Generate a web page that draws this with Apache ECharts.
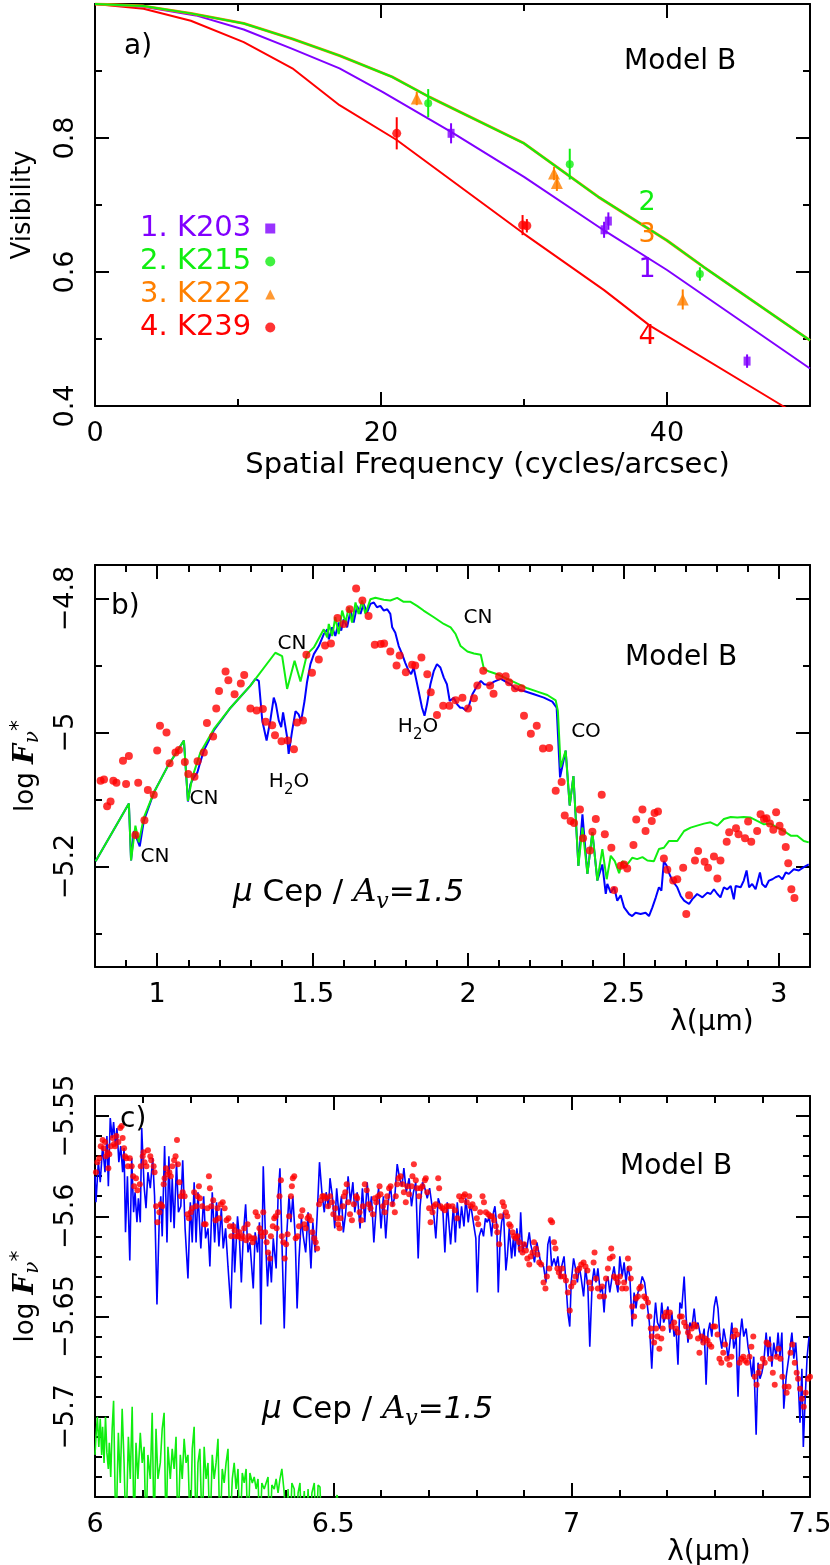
<!DOCTYPE html>
<html>
<head>
<meta charset="utf-8">
<script src="https://cdn.jsdelivr.net/npm/echarts@6/dist/echarts.min.js"></script>
<style>html,body{margin:0;padding:0;background:#fff}#chart{width:830px;height:1565px}</style>
</head>
<body>
<div id="chart"></div>
<script>
// ---------- a) visibility vs spatial frequency ----------
const modelK203 = [[0,1],[3.4,0.996],[7.05,0.983],[10.4,0.962],[13.8,0.933],[17.1,0.904],[20.1,0.869],[24.9,0.809],[30,0.742],[35.6,0.662],[40,0.603],[50,0.456]];
const modelK215 = [[0,1],[3.4,0.997],[6.7,0.986],[10.4,0.971],[13.8,0.948],[17.1,0.923],[20.8,0.891],[23.4,0.861],[30,0.792],[35.2,0.712],[40,0.647],[42.6,0.607],[50,0.498]];
const modelK222 = [[0,1],[3.4,0.997],[6.7,0.986],[10.4,0.971],[13.8,0.948],[17.1,0.923],[20.8,0.891],[23.4,0.861],[30,0.792],[35.2,0.712],[40,0.647],[42.6,0.607],[50,0.498]];
const modelK239 = [[0,1],[3.4,0.993],[6.7,0.975],[10.4,0.943],[13.8,0.904],[17.1,0.849],[21.1,0.797],[30,0.657],[35.6,0.573],[38.8,0.520],[48.1,0.400],[50,0.376]];
// [freq, visibility, error]
const obsK203 = [[24.9,0.807,0.015],[35.6,0.663,0.012],[35.9,0.676,0.013],[45.6,0.467,0.010]];
const obsK215 = [[23.3,0.852,0.021],[33.2,0.761,0.023],[42.3,0.597,0.010]];
const obsK222 = [[22.5,0.859,0.010],[32.1,0.747,0.010],[32.3,0.733,0.012],[41.1,0.559,0.015]];
const obsK239 = [[21.1,0.807,0.024],[29.9,0.670,0.015],[30.2,0.669,0.010]];
const legendNames = ['1. K203', '2. K215', '3. K222', '4. K239'];

// ---------- b) 0.8-3.1 micron spectrum ----------
const greenB = [[0.802,-5.192],[0.909,-5.106],[0.916,-5.191],[0.930,-5.139],[0.941,-5.164],[0.957,-5.127],[0.989,-5.090],[1.032,-5.052],[1.086,-5.012],[1.099,-5.102],[1.113,-5.067],[1.139,-5.030],[1.182,-4.995],[1.236,-4.963],[1.300,-4.930],[1.380,-4.881],[1.402,-4.886],[1.418,-4.935],[1.442,-4.893],[1.461,-4.924],[1.482,-4.883],[1.504,-4.873],[1.536,-4.846],[1.547,-4.858],[1.552,-4.838],[1.563,-4.856],[1.573,-4.828],[1.584,-4.853],[1.595,-4.818],[1.606,-4.836],[1.616,-4.813],[1.627,-4.836],[1.638,-4.806],[1.648,-4.823],[1.659,-4.803],[1.670,-4.823],[1.686,-4.801],[1.702,-4.799],[1.729,-4.802],[1.750,-4.803],[1.772,-4.799],[1.793,-4.805],[1.815,-4.805],[1.836,-4.811],[1.857,-4.818],[1.890,-4.828],[1.922,-4.838],[1.944,-4.843],[1.960,-4.853],[1.976,-4.871],[1.998,-4.879],[2.019,-4.882],[2.041,-4.884],[2.051,-4.905],[2.068,-4.909],[2.094,-4.913],[2.126,-4.920],[2.159,-4.927],[2.191,-4.934],[2.223,-4.939],[2.255,-4.944],[2.282,-4.952],[2.289,-4.968],[2.298,-5.052],[2.314,-5.027],[2.327,-5.109],[2.339,-5.065],[2.355,-5.199],[2.368,-5.142],[2.384,-5.211],[2.400,-5.149],[2.416,-5.221],[2.432,-5.174],[2.446,-5.219],[2.459,-5.184],[2.472,-5.192],[2.486,-5.210],[2.496,-5.192],[2.512,-5.197],[2.528,-5.187],[2.544,-5.189],[2.561,-5.186],[2.577,-5.191],[2.598,-5.192],[2.614,-5.174],[2.630,-5.172],[2.646,-5.162],[2.673,-5.162],[2.695,-5.147],[2.716,-5.142],[2.737,-5.139],[2.759,-5.136],[2.780,-5.134],[2.802,-5.139],[2.823,-5.129],[2.845,-5.126],[2.866,-5.127],[2.887,-5.126],[2.909,-5.127],[2.930,-5.132],[2.952,-5.137],[2.973,-5.136],[2.995,-5.142],[3.016,-5.147],[3.038,-5.154],[3.059,-5.154],[3.080,-5.162],[3.096,-5.164]];
const blueB = [[0.802,-5.192],[0.909,-5.106],[0.916,-5.191],[0.925,-5.147],[0.944,-5.170],[0.957,-5.132],[0.989,-5.090],[1.032,-5.052],[1.086,-5.012],[1.099,-5.103],[1.107,-5.077],[1.118,-5.067],[1.129,-5.060],[1.137,-5.047],[1.150,-5.027],[1.182,-4.997],[1.236,-4.963],[1.300,-4.930],[1.316,-4.920],[1.327,-4.923],[1.338,-4.982],[1.352,-5.012],[1.364,-4.982],[1.375,-4.948],[1.382,-4.958],[1.391,-4.982],[1.399,-4.992],[1.405,-4.970],[1.418,-5.007],[1.423,-5.032],[1.434,-4.998],[1.445,-4.968],[1.455,-4.973],[1.463,-4.983],[1.474,-4.953],[1.482,-4.925],[1.493,-4.898],[1.504,-4.883],[1.520,-4.871],[1.536,-4.853],[1.547,-4.846],[1.552,-4.861],[1.563,-4.843],[1.573,-4.856],[1.584,-4.836],[1.592,-4.848],[1.600,-4.831],[1.611,-4.843],[1.622,-4.818],[1.632,-4.836],[1.643,-4.811],[1.654,-4.823],[1.664,-4.808],[1.675,-4.821],[1.686,-4.808],[1.697,-4.806],[1.707,-4.813],[1.718,-4.811],[1.729,-4.818],[1.740,-4.816],[1.750,-4.823],[1.756,-4.843],[1.766,-4.851],[1.777,-4.871],[1.788,-4.883],[1.798,-4.896],[1.809,-4.908],[1.817,-4.913],[1.825,-4.903],[1.841,-4.938],[1.852,-4.963],[1.860,-4.975],[1.868,-4.958],[1.879,-4.928],[1.890,-4.908],[1.900,-4.898],[1.911,-4.903],[1.922,-4.918],[1.932,-4.928],[1.941,-4.953],[1.954,-4.948],[1.965,-4.958],[1.975,-4.963],[1.982,-4.963],[1.993,-4.967],[2.003,-4.960],[2.014,-4.943],[2.030,-4.930],[2.041,-4.923],[2.052,-4.928],[2.068,-4.929],[2.084,-4.924],[2.105,-4.920],[2.121,-4.924],[2.137,-4.928],[2.153,-4.935],[2.180,-4.938],[2.212,-4.943],[2.244,-4.948],[2.271,-4.954],[2.285,-4.963],[2.296,-5.067],[2.314,-5.027],[2.327,-5.109],[2.339,-5.065],[2.355,-5.199],[2.368,-5.122],[2.384,-5.211],[2.400,-5.149],[2.416,-5.221],[2.432,-5.197],[2.443,-5.241],[2.448,-5.226],[2.459,-5.239],[2.470,-5.231],[2.480,-5.251],[2.491,-5.243],[2.502,-5.261],[2.518,-5.271],[2.528,-5.274],[2.539,-5.269],[2.555,-5.271],[2.571,-5.269],[2.582,-5.274],[2.593,-5.261],[2.604,-5.246],[2.614,-5.231],[2.622,-5.236],[2.630,-5.192],[2.639,-5.199],[2.646,-5.209],[2.657,-5.221],[2.673,-5.231],[2.684,-5.244],[2.695,-5.251],[2.711,-5.256],[2.721,-5.249],[2.737,-5.241],[2.754,-5.246],[2.770,-5.239],[2.780,-5.241],[2.791,-5.234],[2.802,-5.241],[2.812,-5.246],[2.823,-5.231],[2.834,-5.234],[2.845,-5.229],[2.855,-5.249],[2.861,-5.229],[2.877,-5.231],[2.887,-5.221],[2.896,-5.206],[2.904,-5.231],[2.914,-5.226],[2.925,-5.234],[2.939,-5.209],[2.946,-5.226],[2.957,-5.231],[2.968,-5.221],[2.979,-5.219],[2.989,-5.216],[3.000,-5.214],[3.011,-5.219],[3.022,-5.209],[3.032,-5.211],[3.048,-5.204],[3.064,-5.206],[3.080,-5.201],[3.096,-5.197]];
const redB = [[0.818,-5.072],[0.829,-5.070],[0.839,-5.110],[0.850,-5.103],[0.859,-5.072],[0.869,-5.075],[0.890,-5.042],[0.900,-5.077],[0.909,-5.035],[0.930,-5.153],[0.939,-5.075],[0.959,-5.131],[0.970,-5.086],[0.989,-5.093],[1.000,-5.027],[1.009,-4.990],[1.030,-5.000],[1.040,-5.046],[1.059,-5.030],[1.070,-5.026],[1.089,-5.044],[1.100,-5.062],[1.120,-5.066],[1.130,-5.043],[1.150,-5.030],[1.160,-4.986],[1.180,-5.006],[1.190,-4.964],[1.199,-4.938],[1.220,-4.909],[1.229,-4.922],[1.249,-4.943],[1.269,-4.927],[1.280,-4.914],[1.300,-4.964],[1.320,-4.967],[1.340,-4.965],[1.349,-4.984],[1.370,-4.989],[1.379,-5.004],[1.400,-5.013],[1.420,-5.012],[1.440,-5.025],[1.450,-4.985],[1.469,-4.982],[1.480,-4.884],[1.498,-4.911],[1.520,-4.891],[1.540,-4.870],[1.559,-4.867],[1.580,-4.829],[1.600,-4.838],[1.619,-4.816],[1.640,-4.785],[1.660,-4.803],[1.680,-4.826],[1.700,-4.869],[1.719,-4.868],[1.730,-4.867],[1.750,-4.879],[1.770,-4.900],[1.780,-4.885],[1.800,-4.910],[1.820,-4.899],[1.830,-4.900],[1.850,-4.888],[1.869,-4.913],[1.880,-4.940],[1.900,-4.974],[1.920,-4.960],[1.940,-4.960],[1.960,-4.952],[1.982,-4.948],[2.000,-4.964],[2.019,-4.949],[2.030,-4.930],[2.049,-4.908],[2.071,-4.930],[2.082,-4.942],[2.100,-4.916],[2.121,-4.916],[2.132,-4.925],[2.151,-4.934],[2.172,-4.934],[2.180,-4.975],[2.202,-5.002],[2.221,-4.990],[2.241,-5.024],[2.261,-5.023],[2.282,-5.087],[2.301,-5.074],[2.311,-5.124],[2.330,-5.132],[2.341,-5.135],[2.360,-5.115],[2.370,-5.158],[2.392,-5.176],[2.400,-5.148],[2.411,-5.129],[2.430,-5.093],[2.440,-5.152],[2.461,-5.172],[2.470,-5.235],[2.491,-5.199],[2.502,-5.197],[2.512,-5.203],[2.532,-5.168],[2.541,-5.130],[2.561,-5.115],[2.571,-5.147],[2.591,-5.132],[2.600,-5.120],[2.611,-5.118],[2.630,-5.188],[2.641,-5.205],[2.660,-5.221],[2.673,-5.219],[2.692,-5.202],[2.702,-5.271],[2.711,-5.243],[2.730,-5.191],[2.740,-5.177],[2.761,-5.193],[2.772,-5.202],[2.791,-5.185],[2.802,-5.218],[2.812,-5.191],[2.832,-5.163],[2.840,-5.149],[2.862,-5.143],[2.870,-5.152],[2.891,-5.158],[2.901,-5.133],[2.911,-5.163],[2.930,-5.147],[2.941,-5.122],[2.952,-5.129],[2.960,-5.128],[2.971,-5.136],[2.982,-5.145],[2.991,-5.119],[3.002,-5.139],[3.011,-5.148],[3.022,-5.171],[3.030,-5.195],[3.040,-5.234],[3.050,-5.247]];

// ---------- c) 6-7.5 micron spectrum ----------
const blueC = [[6.000,-5.580],[6.002,-5.593],[6.007,-5.573],[6.011,-5.583],[6.016,-5.565],[6.021,-5.578],[6.025,-5.560],[6.028,-5.585],[6.032,-5.551],[6.036,-5.561],[6.039,-5.553],[6.043,-5.565],[6.046,-5.556],[6.050,-5.573],[6.054,-5.565],[6.058,-5.578],[6.061,-5.566],[6.064,-5.608],[6.068,-5.580],[6.073,-5.622],[6.077,-5.571],[6.081,-5.598],[6.084,-5.588],[6.088,-5.603],[6.091,-5.591],[6.095,-5.603],[6.098,-5.556],[6.103,-5.585],[6.107,-5.596],[6.111,-5.578],[6.116,-5.586],[6.121,-5.571],[6.125,-5.590],[6.130,-5.644],[6.135,-5.600],[6.138,-5.590],[6.141,-5.610],[6.146,-5.565],[6.151,-5.613],[6.155,-5.570],[6.159,-5.603],[6.162,-5.581],[6.166,-5.606],[6.171,-5.573],[6.175,-5.598],[6.180,-5.595],[6.184,-5.572],[6.189,-5.606],[6.195,-5.631],[6.200,-5.593],[6.204,-5.613],[6.208,-5.583],[6.212,-5.613],[6.216,-5.588],[6.222,-5.616],[6.228,-5.590],[6.232,-5.611],[6.237,-5.606],[6.241,-5.625],[6.246,-5.588],[6.251,-5.613],[6.255,-5.593],[6.260,-5.615],[6.265,-5.596],[6.269,-5.616],[6.274,-5.606],[6.279,-5.625],[6.285,-5.646],[6.290,-5.603],[6.293,-5.628],[6.299,-5.600],[6.303,-5.611],[6.307,-5.633],[6.311,-5.610],[6.316,-5.594],[6.321,-5.618],[6.325,-5.613],[6.332,-5.636],[6.336,-5.608],[6.341,-5.618],[6.345,-5.603],[6.348,-5.654],[6.353,-5.575],[6.358,-5.613],[6.362,-5.635],[6.366,-5.618],[6.370,-5.633],[6.374,-5.611],[6.380,-5.626],[6.384,-5.591],[6.388,-5.576],[6.393,-5.620],[6.397,-5.656],[6.402,-5.610],[6.407,-5.590],[6.411,-5.603],[6.415,-5.590],[6.420,-5.610],[6.424,-5.646],[6.428,-5.621],[6.433,-5.601],[6.437,-5.610],[6.442,-5.618],[6.447,-5.598],[6.453,-5.626],[6.457,-5.603],[6.462,-5.618],[6.466,-5.600],[6.471,-5.573],[6.476,-5.588],[6.481,-5.598],[6.485,-5.588],[6.490,-5.596],[6.493,-5.581],[6.498,-5.590],[6.503,-5.606],[6.507,-5.586],[6.512,-5.600],[6.517,-5.590],[6.521,-5.608],[6.526,-5.598],[6.531,-5.580],[6.536,-5.593],[6.541,-5.583],[6.545,-5.598],[6.550,-5.588],[6.556,-5.606],[6.561,-5.586],[6.566,-5.603],[6.571,-5.583],[6.576,-5.598],[6.580,-5.590],[6.585,-5.613],[6.590,-5.595],[6.595,-5.586],[6.600,-5.606],[6.605,-5.590],[6.610,-5.611],[6.615,-5.593],[6.620,-5.585],[6.624,-5.595],[6.629,-5.590],[6.634,-5.574],[6.639,-5.581],[6.644,-5.585],[6.648,-5.576],[6.653,-5.588],[6.659,-5.581],[6.664,-5.595],[6.668,-5.588],[6.673,-5.583],[6.678,-5.621],[6.682,-5.595],[6.687,-5.583],[6.692,-5.586],[6.697,-5.591],[6.702,-5.586],[6.706,-5.593],[6.711,-5.600],[6.715,-5.611],[6.720,-5.591],[6.725,-5.595],[6.730,-5.598],[6.734,-5.618],[6.739,-5.593],
  [6.746,-5.614],[6.752,-5.595],[6.756,-5.613],[6.760,-5.593],[6.765,-5.606],[6.769,-5.595],[6.774,-5.605],[6.778,-5.591],[6.783,-5.603],[6.787,-5.595],[6.790,-5.597],[6.795,-5.605],[6.799,-5.611],[6.802,-5.638],[6.806,-5.610],[6.811,-5.606],[6.815,-5.610],[6.819,-5.601],[6.823,-5.603],[6.827,-5.600],[6.832,-5.610],[6.836,-5.598],[6.839,-5.595],[6.843,-5.605],[6.846,-5.638],[6.850,-5.611],[6.853,-5.603],[6.857,-5.598],[6.862,-5.627],[6.865,-5.620],[6.869,-5.606],[6.874,-5.621],[6.878,-5.610],[6.881,-5.620],[6.885,-5.606],[6.890,-5.618],[6.893,-5.598],[6.897,-5.618],[6.901,-5.613],[6.906,-5.616],[6.911,-5.608],[6.914,-5.614],[6.918,-5.618],[6.922,-5.623],[6.927,-5.613],[6.931,-5.618],[6.935,-5.623],[6.941,-5.625],[6.946,-5.633],[6.950,-5.614],[6.954,-5.610],[6.958,-5.625],[6.963,-5.621],[6.967,-5.625],[6.971,-5.620],[6.976,-5.631],[6.979,-5.625],[6.984,-5.620],[6.988,-5.633],[6.992,-5.648],[6.996,-5.655],[6.999,-5.633],[7.004,-5.621],[7.008,-5.626],[7.012,-5.633],[7.016,-5.625],[7.020,-5.631],[7.025,-5.640],[7.029,-5.626],[7.034,-5.635],[7.038,-5.665],[7.043,-5.633],[7.047,-5.626],[7.051,-5.633],[7.055,-5.626],[7.060,-5.638],[7.064,-5.635],[7.068,-5.648],[7.072,-5.633],[7.076,-5.630],[7.080,-5.638],[7.085,-5.630],[7.089,-5.625],[7.092,-5.631],[7.097,-5.638],[7.101,-5.620],[7.106,-5.630],[7.110,-5.623],[7.114,-5.633],[7.118,-5.625],[7.122,-5.630],[7.127,-5.655],[7.131,-5.638],[7.135,-5.646],[7.139,-5.638],[7.143,-5.636],[7.148,-5.630],[7.153,-5.633],[7.159,-5.645],[7.163,-5.653],[7.168,-5.676],[7.172,-5.656],[7.176,-5.643],[7.180,-5.653],[7.185,-5.656],[7.189,-5.643],[7.193,-5.653],[7.197,-5.650],[7.202,-5.645],[7.206,-5.658],[7.210,-5.648],[7.215,-5.660],[7.219,-5.656],[7.223,-5.674],[7.227,-5.643],[7.231,-5.646],[7.236,-5.630],[7.240,-5.650],[7.244,-5.663],[7.248,-5.653],[7.252,-5.656],[7.257,-5.646],[7.261,-5.656],[7.265,-5.653],[7.269,-5.658],[7.273,-5.663],[7.278,-5.656],[7.282,-5.684],[7.286,-5.658],[7.290,-5.653],[7.294,-5.660],[7.299,-5.645],[7.303,-5.640],[7.307,-5.646],[7.311,-5.660],[7.315,-5.666],[7.319,-5.656],[7.324,-5.663],[7.328,-5.671],[7.332,-5.663],[7.336,-5.653],[7.340,-5.666],[7.345,-5.660],[7.349,-5.690],[7.353,-5.660],[7.357,-5.651],[7.361,-5.660],[7.366,-5.656],[7.370,-5.665],[7.374,-5.671],[7.378,-5.680],[7.382,-5.670],[7.387,-5.709],[7.391,-5.673],[7.395,-5.681],[7.399,-5.678],[7.403,-5.673],[7.408,-5.658],[7.412,-5.670],[7.416,-5.660],[7.420,-5.675],[7.424,-5.663],[7.429,-5.670],[7.433,-5.658],[7.437,-5.670],[7.441,-5.658],[7.445,-5.696],[7.450,-5.680],[7.454,-5.673],[7.458,-5.666],[7.462,-5.658],[7.466,-5.671],[7.470,-5.663],[7.475,-5.681],[7.479,-5.703],[7.483,-5.676],[7.486,-5.715],[7.490,-5.690],[7.494,-5.670],[7.498,-5.660]];
const redC = [[6.002,-5.578],[6.005,-5.573],[6.009,-5.571],[6.012,-5.565],[6.016,-5.562],[6.018,-5.566],[6.021,-5.563],[6.023,-5.570],[6.026,-5.568],[6.028,-5.576],[6.030,-5.569],[6.033,-5.565],[6.037,-5.561],[6.040,-5.564],[6.042,-5.565],[6.045,-5.560],[6.049,-5.563],[6.053,-5.556],[6.056,-5.555],[6.058,-5.561],[6.061,-5.566],[6.063,-5.570],[6.066,-5.571],[6.069,-5.575],[6.073,-5.571],[6.077,-5.575],[6.080,-5.580],[6.082,-5.585],[6.086,-5.581],[6.089,-5.587],[6.094,-5.584],[6.096,-5.575],[6.100,-5.570],[6.102,-5.568],[6.104,-5.573],[6.108,-5.575],[6.111,-5.567],[6.116,-5.570],[6.118,-5.572],[6.123,-5.575],[6.125,-5.578],[6.128,-5.595],[6.131,-5.603],[6.135,-5.598],[6.138,-5.594],[6.141,-5.595],[6.144,-5.584],[6.146,-5.581],[6.149,-5.576],[6.152,-5.579],[6.156,-5.578],[6.159,-5.580],[6.162,-5.575],[6.166,-5.572],[6.169,-5.570],[6.172,-5.562],[6.174,-5.574],[6.177,-5.583],[6.180,-5.590],[6.184,-5.588],[6.188,-5.590],[6.194,-5.599],[6.197,-5.601],[6.201,-5.598],[6.204,-5.596],[6.208,-5.588],[6.212,-5.595],[6.215,-5.590],[6.218,-5.585],[6.220,-5.591],[6.225,-5.595],[6.229,-5.604],[6.232,-5.604],[6.236,-5.596],[6.239,-5.580],[6.241,-5.586],[6.244,-5.595],[6.248,-5.592],[6.253,-5.602],[6.257,-5.596],[6.260,-5.601],[6.264,-5.594],[6.268,-5.593],[6.272,-5.596],[6.276,-5.602],[6.280,-5.601],[6.283,-5.605],[6.286,-5.610],[6.290,-5.605],[6.293,-5.607],[6.296,-5.610],[6.300,-5.610],[6.303,-5.608],[6.307,-5.611],[6.310,-5.610],[6.313,-5.606],[6.317,-5.612],[6.320,-5.604],[6.323,-5.610],[6.328,-5.611],[6.331,-5.613],[6.334,-5.611],[6.337,-5.598],[6.341,-5.600],[6.345,-5.606],[6.348,-5.608],[6.351,-5.610],[6.353,-5.598],[6.357,-5.608],[6.360,-5.613],[6.363,-5.618],[6.367,-5.621],[6.369,-5.610],[6.373,-5.605],[6.376,-5.601],[6.379,-5.600],[6.381,-5.606],[6.384,-5.598],[6.387,-5.590],[6.390,-5.582],[6.392,-5.610],[6.395,-5.613],[6.398,-5.621],[6.401,-5.614],[6.404,-5.609],[6.407,-5.600],[6.411,-5.590],[6.413,-5.585],[6.415,-5.581],[6.418,-5.580],[6.421,-5.611],[6.425,-5.610],[6.428,-5.605],[6.432,-5.600],[6.435,-5.597],[6.439,-5.604],[6.442,-5.606],[6.446,-5.601],[6.449,-5.600],[6.453,-5.602],[6.456,-5.608],[6.460,-5.611],[6.463,-5.613],[6.466,-5.616],[6.470,-5.594],[6.474,-5.592],[6.477,-5.590],[6.481,-5.590],[6.485,-5.591],[6.489,-5.595],[6.493,-5.590],[6.497,-5.593],[6.500,-5.599],[6.504,-5.596],[6.507,-5.601],[6.510,-5.604],[6.513,-5.606],[6.515,-5.601],[6.520,-5.595],[6.522,-5.590],[6.525,-5.588],[6.528,-5.584],[6.531,-5.593],[6.535,-5.599],[6.539,-5.602],[6.543,-5.594],[6.548,-5.590],[6.550,-5.591],[6.555,-5.598],[6.559,-5.602],[6.562,-5.595],[6.566,-5.584],[6.570,-5.587],[6.574,-5.594],[6.578,-5.596],[6.583,-5.599],[6.587,-5.591],[6.590,-5.593],[6.594,-5.590],[6.597,-5.585],[6.599,-5.589],[6.604,-5.595],[6.608,-5.598],[6.611,-5.593],[6.613,-5.590],[6.617,-5.586],[6.620,-5.585],[6.624,-5.594],[6.629,-5.598],[6.631,-5.590],[6.634,-5.584],[6.637,-5.581],[6.641,-5.580],[6.645,-5.584],[6.648,-5.588],[6.652,-5.593],[6.655,-5.585],[6.659,-5.589],[6.664,-5.585],[6.666,-5.580],[6.669,-5.574],[6.673,-5.582],[6.676,-5.586],[6.680,-5.590],[6.683,-5.586],[6.687,-5.585],[6.692,-5.582],[6.694,-5.581],[6.697,-5.588],[6.701,-5.596],[6.704,-5.603],[6.708,-5.598],[6.711,-5.595],[6.715,-5.594],[6.720,-5.581],[6.722,-5.586],[6.725,-5.595],[6.729,-5.596],[6.734,-5.597],[6.738,-5.595],[6.742,-5.595],
  [6.750,-5.595],[6.755,-5.597],[6.760,-5.601],[6.764,-5.590],[6.769,-5.592],[6.773,-5.590],[6.776,-5.589],[6.780,-5.593],[6.785,-5.590],[6.788,-5.595],[6.792,-5.594],[6.797,-5.596],[6.801,-5.601],[6.804,-5.604],[6.808,-5.598],[6.813,-5.590],[6.816,-5.593],[6.820,-5.598],[6.825,-5.599],[6.829,-5.600],[6.833,-5.600],[6.837,-5.602],[6.841,-5.605],[6.844,-5.608],[6.848,-5.614],[6.851,-5.600],[6.855,-5.593],[6.858,-5.595],[6.862,-5.598],[6.865,-5.600],[6.869,-5.604],[6.872,-5.605],[6.876,-5.608],[6.879,-5.610],[6.883,-5.611],[6.886,-5.610],[6.890,-5.613],[6.893,-5.616],[6.897,-5.618],[6.900,-5.614],[6.904,-5.617],[6.907,-5.621],[6.911,-5.624],[6.914,-5.620],[6.918,-5.618],[6.921,-5.613],[6.925,-5.616],[6.928,-5.619],[6.932,-5.623],[6.936,-5.624],[6.941,-5.633],[6.945,-5.636],[6.948,-5.630],[6.953,-5.626],[6.956,-5.602],[6.959,-5.603],[6.963,-5.613],[6.966,-5.616],[6.970,-5.626],[6.973,-5.628],[6.977,-5.630],[6.980,-5.626],[6.984,-5.630],[6.988,-5.632],[6.992,-5.638],[6.996,-5.647],[6.999,-5.635],[7.004,-5.633],[7.008,-5.630],[7.012,-5.627],[7.016,-5.626],[7.020,-5.624],[7.025,-5.623],[7.029,-5.625],[7.033,-5.627],[7.037,-5.633],[7.041,-5.636],[7.046,-5.623],[7.048,-5.618],[7.051,-5.631],[7.055,-5.636],[7.059,-5.640],[7.064,-5.635],[7.068,-5.640],[7.072,-5.631],[7.076,-5.626],[7.080,-5.621],[7.083,-5.616],[7.086,-5.620],[7.089,-5.630],[7.093,-5.631],[7.097,-5.633],[7.101,-5.630],[7.106,-5.636],[7.110,-5.633],[7.114,-5.636],[7.118,-5.621],[7.121,-5.626],[7.124,-5.631],[7.127,-5.645],[7.131,-5.650],[7.135,-5.641],[7.139,-5.640],[7.142,-5.636],[7.145,-5.635],[7.149,-5.645],[7.152,-5.640],[7.156,-5.641],[7.160,-5.643],[7.163,-5.650],[7.166,-5.656],[7.168,-5.660],[7.173,-5.663],[7.177,-5.656],[7.180,-5.660],[7.184,-5.666],[7.188,-5.661],[7.191,-5.656],[7.194,-5.650],[7.198,-5.648],[7.202,-5.650],[7.206,-5.648],[7.210,-5.655],[7.215,-5.653],[7.219,-5.656],[7.223,-5.658],[7.227,-5.650],[7.231,-5.650],[7.236,-5.653],[7.240,-5.655],[7.244,-5.658],[7.248,-5.660],[7.252,-5.656],[7.257,-5.654],[7.261,-5.655],[7.265,-5.661],[7.268,-5.668],[7.272,-5.660],[7.276,-5.663],[7.280,-5.661],[7.285,-5.662],[7.289,-5.664],[7.293,-5.665],[7.297,-5.655],[7.301,-5.655],[7.306,-5.659],[7.310,-5.671],[7.314,-5.673],[7.318,-5.668],[7.322,-5.664],[7.326,-5.671],[7.331,-5.674],[7.335,-5.670],[7.339,-5.660],[7.343,-5.657],[7.347,-5.659],[7.352,-5.673],[7.356,-5.671],[7.360,-5.670],[7.364,-5.672],[7.368,-5.673],[7.373,-5.670],[7.377,-5.665],[7.381,-5.660],[7.384,-5.680],[7.388,-5.684],[7.392,-5.678],[7.396,-5.675],[7.401,-5.671],[7.405,-5.673],[7.409,-5.663],[7.413,-5.664],[7.417,-5.671],[7.422,-5.678],[7.426,-5.684],[7.430,-5.670],[7.434,-5.666],[7.438,-5.671],[7.442,-5.680],[7.447,-5.685],[7.451,-5.688],[7.455,-5.685],[7.459,-5.668],[7.463,-5.664],[7.468,-5.673],[7.472,-5.678],[7.475,-5.681],[7.479,-5.686],[7.483,-5.691],[7.487,-5.695],[7.491,-5.688],[7.496,-5.681],[7.500,-5.680]];
const greenC = [[6.000,-5.719],[6.002,-5.710],[6.005,-5.700],[6.008,-5.715],[6.011,-5.701],[6.014,-5.719],[6.016,-5.705],[6.019,-5.723],[6.022,-5.700],[6.025,-5.718],[6.028,-5.726],[6.030,-5.713],[6.033,-5.730],[6.036,-5.706],[6.039,-5.692],[6.042,-5.736],[6.044,-5.760],[6.049,-5.708],[6.053,-5.733],[6.057,-5.696],[6.061,-5.723],[6.065,-5.760],[6.070,-5.710],[6.074,-5.731],[6.078,-5.695],[6.082,-5.760],[6.086,-5.713],[6.090,-5.731],[6.095,-5.708],[6.099,-5.723],[6.103,-5.715],[6.107,-5.760],[6.111,-5.719],[6.116,-5.731],[6.120,-5.698],[6.124,-5.760],[6.128,-5.706],[6.132,-5.731],[6.137,-5.723],[6.141,-5.706],[6.145,-5.698],[6.149,-5.760],[6.153,-5.715],[6.158,-5.731],[6.162,-5.716],[6.166,-5.726],[6.170,-5.710],[6.174,-5.760],[6.179,-5.719],[6.183,-5.731],[6.187,-5.711],[6.191,-5.723],[6.195,-5.719],[6.200,-5.760],[6.204,-5.716],[6.208,-5.705],[6.212,-5.760],[6.216,-5.723],[6.220,-5.716],[6.225,-5.760],[6.229,-5.715],[6.233,-5.731],[6.237,-5.723],[6.241,-5.760],[6.246,-5.719],[6.250,-5.731],[6.254,-5.723],[6.258,-5.711],[6.262,-5.760],[6.267,-5.726],[6.271,-5.733],[6.275,-5.723],[6.279,-5.716],[6.283,-5.760],[6.288,-5.731],[6.292,-5.723],[6.296,-5.736],[6.300,-5.726],[6.304,-5.760],[6.309,-5.728],[6.313,-5.733],[6.317,-5.726],[6.321,-5.760],[6.325,-5.728],[6.330,-5.733],[6.334,-5.730],[6.338,-5.736],[6.342,-5.731],[6.346,-5.760],[6.350,-5.733],[6.355,-5.736],[6.359,-5.733],[6.363,-5.730],[6.367,-5.760],[6.371,-5.734],[6.376,-5.736],[6.380,-5.731],[6.384,-5.738],[6.388,-5.731],[6.392,-5.726],[6.397,-5.738],[6.401,-5.760],[6.405,-5.736],[6.409,-5.760],[6.413,-5.733],[6.418,-5.736],[6.422,-5.760],[6.426,-5.738],[6.430,-5.733],[6.434,-5.760],[6.439,-5.737],[6.443,-5.760],[6.447,-5.736],[6.451,-5.760],[6.455,-5.738],[6.460,-5.733],[6.464,-5.760],[6.468,-5.734],[6.472,-5.735],[6.476,-5.760],[6.481,-5.760],[6.508,-5.739],[6.520,-5.760]];

// ---------- ticks ----------
const xMajorA = [0, 20, 40], xMinorA = [10, 30, 50], xLabelsA = [0, 20, 40];
const yMajorA = [0.4, 0.6, 0.8, 1], yMinorA = [0.5, 0.7, 0.9], yLabelsA = [0.4, 0.6, 0.8];
const xMajorB = [1, 1.5, 2, 2.5, 3], xMinorB = [0.9, 1.1, 1.2, 1.3, 1.4, 1.6, 1.7, 1.8, 1.9, 2.1, 2.2, 2.3, 2.4, 2.6, 2.7, 2.8, 2.9, 3.1];
const yMajorB = [-5.2, -5, -4.8], yMinorB = [-5.3, -5.1, -4.9];
const xMajorC = [6, 6.5, 7, 7.5], xMinorC = [6.1, 6.2, 6.3, 6.4, 6.6, 6.7, 6.8, 6.9, 7.1, 7.2, 7.3, 7.4];
const yMajorC = [-5.7, -5.65, -5.6, -5.55], yMinorC = [-5.73, -5.72, -5.71, -5.69, -5.68, -5.67, -5.66, -5.64, -5.63, -5.62, -5.61, -5.59, -5.58, -5.57, -5.56, -5.54];

const FONT = 'DejaVu Sans';
const SERIF = 'DejaVu Serif';
const INK = '#000';
const C = { purple: '#8000ff', green: '#10ee10', orange: '#ff8000', red: '#ff0000', blue: '#0000ff' };

const fluxName = {
  name: '{n|log }{f|F}{s|ν}{t|*}',
  nameStyle: { rich: {
    n: { fontSize: 26, fontFamily: FONT, color: INK, lineHeight: 30 },
    f: { fontSize: 28, fontFamily: SERIF, fontStyle: 'italic', fontWeight: 'bold', color: INK, lineHeight: 30 },
    s: { fontSize: 20, fontFamily: SERIF, fontStyle: 'italic', color: INK, lineHeight: 20, padding: [14, 0, 0, 1] },
    t: { fontSize: 22, fontFamily: FONT, color: INK, lineHeight: 20, padding: [0, 0, 14, 0] },
  } },
};
const lambdaStyle = (pad) => ({ fontSize: 28, fontFamily: FONT, color: INK, padding: [0, 0, 0, pad] });

const panels = [
  { grid: { left: 95, top: 4, width: 715, height: 402 },
    x: { min: 0, max: 50, major: xMajorA, minor: xMinorA, labels: xLabelsA, name: 'Spatial Frequency (cycles/arcsec)', gap: 45,
         nameStyle: { fontSize: 29, fontFamily: FONT, color: INK, padding: [0, 0, 0, 70] } },
    y: { min: 0.4, max: 1, major: yMajorA, minor: yMinorA, labels: yLabelsA, name: 'Visibility', gap: 59,
         nameStyle: { fontSize: 26, fontFamily: FONT, color: INK } } },
  { grid: { left: 95, top: 565, width: 715, height: 402 },
    x: { min: 0.8, max: 3.1, major: xMajorB, minor: xMinorB, labels: xMajorB, name: 'λ(μm)', gap: 32, nameStyle: lambdaStyle(519) },
    y: { min: -5.35, max: -4.75, major: yMajorB, minor: yMinorB, labels: yMajorB, name: fluxName.name, gap: 52, nameStyle: fluxName.nameStyle } },
  { grid: { left: 95, top: 1096, width: 715, height: 401 },
    x: { min: 6, max: 7.5, major: xMajorC, minor: xMinorC, labels: xMajorC, name: 'λ(μm)', gap: 36, nameStyle: lambdaStyle(513) },
    y: { min: -5.74, max: -5.54, major: yMajorC, minor: yMinorC, labels: yMajorC, name: fluxName.name, gap: 52, nameStyle: fluxName.nameStyle } },
];

const frameLine = { color: INK, width: 2 };
function axes(dim, gi, s) {
  const isX = dim === 'x';
  const [p0, p1] = isX ? ['bottom', 'top'] : ['left', 'right'];
  const base = { type: 'value', min: s.min, max: s.max, splitLine: { show: false } };
  const major = { inside: true, length: 14, customValues: s.major, lineStyle: frameLine };
  const minor = { inside: true, length: 7, customValues: s.minor, lineStyle: frameLine };
  const line = { onZero: false, lineStyle: frameLine };
  const hidden = { show: false, onZero: false };
  return [
    { ...base, gridIndex: gi, position: p0, axisLine: line, axisTick: major,
      axisLabel: { customValues: s.labels, margin: isX ? 14 : 16, rotate: isX ? 0 : 90, color: INK, fontSize: 27, fontFamily: FONT,
                   formatter: v => String(v).replace('-', '\u2212') },
      name: s.name, nameLocation: 'middle', nameGap: s.gap, nameTextStyle: s.nameStyle },
    { ...base, gridIndex: gi, position: p1, axisLine: line, axisTick: major, axisLabel: { show: false } },
    // second, empty grid on the same spot carries the short ticks
    { ...base, gridIndex: gi + 1, position: p0, axisLine: hidden, axisTick: minor, axisLabel: { show: false } },
    { ...base, gridIndex: gi + 1, position: p1, axisLine: hidden, axisTick: minor, axisLabel: { show: false } },
  ];
}

const grid = [], xAxis = [], yAxis = [];
panels.forEach((p, i) => {
  const g = { ...p.grid, outerBoundsMode: 'none' };
  grid.push(g, { ...g });
  xAxis.push(...axes('x', 2 * i, p.x));
  yAxis.push(...axes('y', 2 * i, p.y));
});
const onA = { xAxisIndex: 0, yAxisIndex: 0 };
const onB = { xAxisIndex: 4, yAxisIndex: 4 };
const onC = { xAxisIndex: 8, yAxisIndex: 8 };

function curve(data, color, on, width, z) {
  return { type: 'line', ...on, data, symbol: 'none', clip: true, silent: true, z: z || 2,
           lineStyle: { color, width: width || 2 }, itemStyle: { color } };
}
function errorBars(data, color) {
  return { type: 'custom', ...onA, data, silent: true, z: 3, encode: { x: 0, y: 1 },
    renderItem(params, api) {
      const x = api.value(0), v = api.value(1), e = api.value(2);
      const lo = api.coord([x, v - e]), hi = api.coord([x, v + e]);
      return { type: 'line', shape: { x1: lo[0], y1: lo[1], x2: hi[0], y2: hi[1] }, style: { stroke: color, lineWidth: 2 } };
    } };
}
function points(name, data, color, symbol, size) {
  return { type: 'scatter', name, ...onA, data, symbol, symbolSize: size, encode: { x: 0, y: 1 }, silent: true, z: 4,
           itemStyle: { color } };
}

function label(x, y, text, extra) {
  return { type: 'text', x, y, silent: true, z: 100,
           style: Object.assign({ text, fill: INK, fontSize: 28, fontFamily: FONT, align: 'left', verticalAlign: 'middle' }, extra) };
}
function water(x, y) {
  return label(x, y, '{n|H}{s|2}{n|O}', { align: 'center', rich: {
    n: { fontSize: 20, fontFamily: FONT, fill: INK, lineHeight: 20 },
    s: { fontSize: 15, fontFamily: FONT, fill: INK, lineHeight: 15, padding: [16, 0, 0, 0] } } });
}
function extinction(x, y) {
  return label(x, y, '{m|μ}{r| Cep / }{a|A}{v|v}{i|=1.5}', { rich: {
    m: { fontSize: 31, fontFamily: FONT, fontStyle: 'italic', fill: INK, lineHeight: 30 },
    r: { fontSize: 31, fontFamily: FONT, fill: INK, lineHeight: 30 },
    a: { fontSize: 32, fontFamily: SERIF, fontStyle: 'italic', fill: INK, lineHeight: 30 },
    v: { fontSize: 22, fontFamily: SERIF, fontStyle: 'italic', fill: INK, lineHeight: 22, padding: [18, 0, 0, 0] },
    i: { fontSize: 31, fontFamily: FONT, fontStyle: 'italic', fill: INK, lineHeight: 30 } } });
}
const small = { fontSize: 20, align: 'center' };
const digit = (color) => ({ fill: color, align: 'center', fontSize: 27 });

const chart = echarts.init(document.getElementById('chart'), null, { renderer: 'canvas' });
chart.setOption({
  backgroundColor: '#fff',
  animation: false,
  grid, xAxis, yAxis,
  legend: {
    orient: 'vertical', left: 140, top: 214, padding: 0, align: 'right', itemGap: 4,
    itemWidth: 10, itemHeight: 10, selectedMode: false,
    textStyle: { fontSize: 29, fontFamily: FONT, padding: [0, 9, 0, 0] },
    data: legendNames.map((name, i) => ({ name, textStyle: { color: [C.purple, C.green, C.orange, C.red][i] } })),
  },
  series: [
    curve(modelK239, C.red, onA),
    curve(modelK203, C.purple, onA),
    curve(modelK222, C.orange, onA, 2.8),
    curve(modelK215, C.green, onA, 2),
    errorBars(obsK203, C.purple), errorBars(obsK215, C.green), errorBars(obsK222, C.orange), errorBars(obsK239, C.red),
    points(legendNames[0], obsK203, C.purple, 'rect', [7, 9]),
    points(legendNames[1], obsK215, C.green, 'circle', 8),
    points(legendNames[2], obsK222, C.orange, 'triangle', 12),
    points(legendNames[3], obsK239, C.red, 'circle', 9),

    curve(blueB, C.blue, onB, 2),
    curve(greenB, C.green, onB, 2, 3),
    { type: 'scatter', ...onB, data: redB, symbol: 'circle', symbolSize: 8, silent: true, z: 4, itemStyle: { color: C.red } },

    curve(blueC, C.blue, onC, 1.6),
    curve(greenC, C.green, onC, 1.6),
    { type: 'scatter', ...onC, data: redC, symbol: 'circle', symbolSize: 6, silent: true, z: 4, itemStyle: { color: C.red } },
  ],
  graphic: [
    label(124, 47, 'a)'),
    label(624, 62, 'Model B'),
    label(647, 203, '2', digit(C.green)),
    label(647, 235, '3', digit(C.orange)),
    label(647, 270, '1', digit(C.purple)),
    label(647, 337, '4', digit(C.red)),

    label(111, 607, 'b)'),
    label(625, 658, 'Model B'),
    label(292, 644, 'CN', small),
    label(478, 618, 'CN', small),
    label(204, 799, 'CN', small),
    label(155, 857, 'CN', small),
    label(586, 732, 'CO', small),
    water(289, 782),
    water(418, 727),
    extinction(233, 893),

    label(120, 1120, 'c)'),
    label(620, 1167, 'Model B'),
    extinction(262, 1410),
  ],
});
</script>
</body>
</html>
